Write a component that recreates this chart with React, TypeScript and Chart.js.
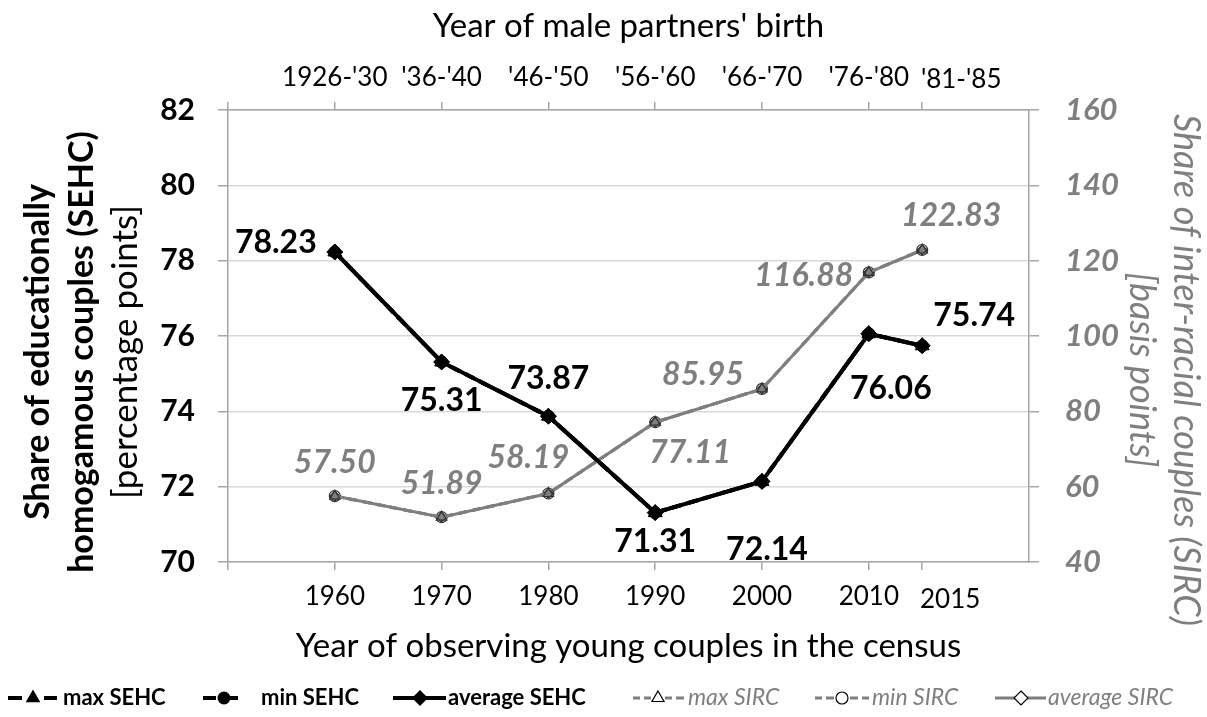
import { useEffect, useRef } from "react";
import { Chart, registerables } from "chart.js";

Chart.register(...registerables);

// ---------- data ----------
const censusYears = [1960, 1970, 1980, 1990, 2000, 2010, 2015];
const birthCohorts = ["1926-'30", "'36-'40", "'46-'50", "'56-'60", "'66-'70", "'76-'80", "'81-'85"];
const maxSEHC = [78.23, 75.31, 73.87, 71.31, 72.14, 76.06, 75.74];
const minSEHC = [78.23, 75.31, 73.87, 71.31, 72.14, 76.06, 75.74];
const avgSEHC = [78.23, 75.31, 73.87, 71.31, 72.14, 76.06, 75.74];
const maxSIRC = [57.5, 51.89, 58.19, 77.11, 85.95, 116.88, 122.83];
const minSIRC = [57.5, 51.89, 58.19, 77.11, 85.95, 116.88, 122.83];
const avgSIRC = [57.5, 51.89, 58.19, 77.11, 85.95, 116.88, 122.83];
const xTickValues = [1950, 1960, 1970, 1980, 1990, 2000, 2010, 2015];
const sehcTicks = [70, 72, 74, 76, 78, 80, 82];
const sircTicks = [40, 60, 80, 100, 120, 140, 160];

// ---------- styles ----------
const FONT = "Lato";
const GRAY = "#7f7f7f";
const AXIS = "#a6a6a6";
const GRID = "#d9d9d9";
const sehcLabelOffsets = [[-59, -9], [0, 39], [0, -38], [0, 29], [5, 68], [22, 55], [52, -30]];
const sircLabelOffsets = [[0, -33], [0, -34], [-20, -36], [35, 30], [-59, -14], [-65, 3], [29, -34]];

type Mk = "triangle" | "circle" | "diamond";

function drawMarker(ctx: CanvasRenderingContext2D, kind: Mk, x: number, y: number, r: number, fill: string, stroke: string, lw: number) {
  ctx.save();
  ctx.setLineDash([]);
  ctx.beginPath();
  if (kind === "triangle") {
    ctx.moveTo(x, y - r);
    ctx.lineTo(x + r * 0.866, y + r * 0.5);
    ctx.lineTo(x - r * 0.866, y + r * 0.5);
    ctx.closePath();
  } else if (kind === "circle") {
    ctx.arc(x, y, r, 0, Math.PI * 2);
  } else {
    ctx.moveTo(x, y - r);
    ctx.lineTo(x + r, y);
    ctx.lineTo(x, y + r);
    ctx.lineTo(x - r, y);
    ctx.closePath();
  }
  ctx.fillStyle = fill;
  ctx.fill();
  if (lw > 0) {
    ctx.strokeStyle = stroke;
    ctx.lineWidth = lw;
    ctx.stroke();
  }
  ctx.restore();
}

const SEHC_LEG_FONT = `bold 22px ${FONT}`;
const SIRC_LEG_FONT = `italic 23px ${FONT}`;
// segs: explicit line pieces [from, to] relative to the symbol
const legendItems = [
  { segs: [[8, 22], [44, 57]], mx: 33, kind: "triangle" as Mk, color: "#000", lw: 4, fill: "#000", stroke: "#000", mr: 8.5, text: "max SEHC", tx: 63, font: SEHC_LEG_FONT, tc: "#000" },
  { segs: [[203, 216], [230, 238]], mx: 224, kind: "circle" as Mk, color: "#000", lw: 4, fill: "#000", stroke: "#000", mr: 6.5, text: "min SEHC", tx: 261, font: SEHC_LEG_FONT, tc: "#000" },
  { segs: [[393, 446]], mx: 420, kind: "diamond" as Mk, color: "#000", lw: 4, fill: "#000", stroke: "#000", mr: 8, text: "average SEHC", tx: 448, font: SEHC_LEG_FONT, tc: "#000" },
  { segs: [[633, 640], [644, 651], [665, 672], [676, 684]], mx: 658, kind: "triangle" as Mk, color: GRAY, lw: 3, fill: "#fff", stroke: "#000", mr: 7, text: "max SIRC", tx: 688, font: SIRC_LEG_FONT, tc: GRAY },
  { segs: [[815, 822], [826, 834], [850, 858], [862, 869]], mx: 842, kind: "circle" as Mk, color: GRAY, lw: 3, fill: "#fff", stroke: "#000", mr: 6, text: "min SIRC", tx: 872, font: SIRC_LEG_FONT, tc: GRAY },
  { segs: [[995, 1046]], mx: 1021, kind: "diamond" as Mk, color: GRAY, lw: 3, fill: "#fff", stroke: "#000", mr: 7, text: "average SIRC", tx: 1048, font: SIRC_LEG_FONT, tc: GRAY },
];

const decorPlugin = {
  id: "decor",
  afterDraw(chart: any) {
    const ctx: CanvasRenderingContext2D = chart.ctx;
    const area = chart.chartArea;
    const xs = chart.scales.x;
    const xt = chart.scales.x2;
    ctx.save();

    // shifted 2015 tick labels (bottom and top)
    ctx.textAlign = "center";
    ctx.textBaseline = "middle";
    ctx.fillStyle = "#000";
    ctx.font = `26px ${FONT}`;
    const last = censusYears.length - 1;
    ctx.fillText(String(censusYears[last]), xs.getPixelForValue(censusYears[last]) + 28, 600);
    ctx.fillText(birthCohorts[last], xt.getPixelForValue(censusYears[last]) + 39, 80);

    // data labels
    const drawLabels = (dsIndex: number, values: number[], offsets: number[][], font: string, color: string) => {
      const meta = chart.getDatasetMeta(dsIndex);
      ctx.font = font;
      ctx.fillStyle = color;
      meta.data.forEach((pt: any, i: number) => {
        ctx.fillText(values[i].toFixed(2), pt.x + offsets[i][0], pt.y + offsets[i][1]);
      });
    };
    drawLabels(5, avgSIRC, sircLabelOffsets, `italic bold 32px ${FONT}`, GRAY);
    drawLabels(2, avgSEHC, sehcLabelOffsets, `bold 32px ${FONT}`, "#000");

    // axis titles
    const midX = (area.left + area.right) / 2;
    ctx.fillStyle = "#000";
    ctx.font = `33px ${FONT}`;
    ctx.fillText("Year of male partners' birth", midX, 26);
    ctx.fillText("Year of observing young couples in the census", midX, 646);

    // left title
    ctx.save();
    ctx.translate(0, 352);
    ctx.rotate(-Math.PI / 2);
    ctx.font = `bold 34px ${FONT}`;
    ctx.fillText("Share of educationally", 0, 38);
    ctx.fillText("homogamous couples (SEHC)", 0, 82);
    ctx.font = `35px ${FONT}`;
    ctx.fillText("[percentage points]", 0, 126);
    ctx.restore();

    // right title
    ctx.save();
    ctx.translate(1207, 370);
    ctx.rotate(Math.PI / 2);
    ctx.fillStyle = GRAY;
    ctx.font = `italic 36px ${FONT}`;
    ctx.fillText("Share of inter-racial couples (SIRC)", 0, 21);
    ctx.fillText("[basis points]", 0, 65);
    ctx.restore();

    // legend
    const ly = 698;
    legendItems.forEach((it) => {
      ctx.save();
      ctx.strokeStyle = it.color;
      ctx.lineWidth = it.lw;
      ctx.beginPath();
      it.segs.forEach(([a, b]) => {
        ctx.moveTo(a, ly);
        ctx.lineTo(b, ly);
      });
      ctx.stroke();
      ctx.restore();
      drawMarker(ctx, it.kind, it.mx, ly, it.mr, it.fill, it.stroke, it.fill === "#000" ? 0 : 1.2);
      ctx.font = it.font;
      ctx.fillStyle = it.tc;
      ctx.textAlign = "left";
      ctx.fillText(it.text, it.tx, ly);
    });

    ctx.restore();
  },
};

const pts = (arr: number[]) => censusYears.map((x, i) => ({ x, y: arr[i] }));

export default function App() {
  const ref = useRef<HTMLCanvasElement>(null);
  useEffect(() => {
    const canvas = ref.current;
    if (!canvas) return;
    const chart = new Chart(canvas, {
      type: "line",
      data: {
        datasets: [
          { label: "max SEHC", data: pts(maxSEHC), yAxisID: "y", xAxisID: "x", borderColor: "#000", borderWidth: 4, borderDash: [12, 6], pointStyle: "triangle", pointRadius: 8, pointBackgroundColor: "#000", pointBorderColor: "#000", pointBorderWidth: 1 },
          { label: "min SEHC", data: pts(minSEHC), yAxisID: "y", xAxisID: "x", borderColor: "#000", borderWidth: 4, borderDash: [9, 6], pointStyle: "circle", pointRadius: 6, pointBackgroundColor: "#000", pointBorderColor: "#000", pointBorderWidth: 1 },
          { label: "average SEHC", data: pts(avgSEHC), yAxisID: "y", xAxisID: "x", borderColor: "#000", borderWidth: 4, pointStyle: "rectRot", pointRadius: 8, pointBackgroundColor: "#000", pointBorderColor: "#000", pointBorderWidth: 1 },
          { label: "max SIRC", data: pts(maxSIRC), yAxisID: "y2", xAxisID: "x", borderColor: GRAY, borderWidth: 3, borderDash: [9, 5], pointStyle: "triangle", pointRadius: 6, pointBackgroundColor: "rgba(0,0,0,0)", pointBorderColor: "#333", pointBorderWidth: 1.2 },
          { label: "min SIRC", data: pts(minSIRC), yAxisID: "y2", xAxisID: "x", borderColor: GRAY, borderWidth: 3, borderDash: [9, 5], pointStyle: "circle", pointRadius: 5.5, pointBackgroundColor: "rgba(0,0,0,0)", pointBorderColor: "#333", pointBorderWidth: 1.2 },
          { label: "average SIRC", data: pts(avgSIRC), yAxisID: "y2", xAxisID: "x", borderColor: GRAY, borderWidth: 3, pointStyle: "rectRot", pointRadius: 5, pointBackgroundColor: GRAY, pointBorderColor: "#333", pointBorderWidth: 1.2 },
        ],
      },
      options: {
        responsive: false,
        animation: false,
        layout: { padding: 0 },
        plugins: {
          legend: { display: false },
          tooltip: { enabled: false },
          title: { display: false },
        },
        scales: {
          x: {
            type: "linear",
            position: "bottom",
            min: 1950,
            max: 2025,
            afterBuildTicks: (s: any) => { s.ticks = xTickValues.map((v) => ({ value: v })); },
            afterFit: (s: any) => { s.height = 155; },
            grid: { drawOnChartArea: false, drawTicks: true, tickLength: 8, color: AXIS, lineWidth: 1.5 },
            border: { color: AXIS, width: 1.5 },
            ticks: {
              autoSkip: false, maxRotation: 0, padding: 11, color: "#000",
              font: { family: FONT, size: 26 },
              callback: (v: any) => (censusYears.includes(v) && v !== 2015 ? String(v) : ""),
            },
          },
          x2: {
            type: "linear",
            position: "top",
            min: 1950,
            max: 2025,
            afterBuildTicks: (s: any) => { s.ticks = xTickValues.map((v) => ({ value: v })); },
            afterFit: (s: any) => { s.height = 110; },
            grid: { drawOnChartArea: false, drawTicks: true, tickLength: 8, color: AXIS, lineWidth: 1.5 },
            border: { color: AXIS, width: 1.5 },
            ticks: {
              autoSkip: false, maxRotation: 0, padding: 9, color: "#000",
              font: { family: FONT, size: 26 },
              callback: (v: any) => {
                const i = censusYears.indexOf(v);
                return i >= 0 && v !== 2015 ? birthCohorts[i] : "";
              },
            },
          },
          y: {
            type: "linear",
            position: "left",
            min: 70,
            max: 82,
            afterBuildTicks: (s: any) => { s.ticks = sehcTicks.map((v) => ({ value: v })); },
            afterFit: (s: any) => { s.width = 228; },
            grid: { color: GRID, lineWidth: 1.5, tickColor: AXIS, tickLength: 10 },
            border: { color: AXIS, width: 1.5 },
            ticks: { padding: 23, color: "#000", font: { family: FONT, size: 30, weight: "bold" } },
          },
          y2: {
            type: "linear",
            position: "right",
            min: 40,
            max: 160,
            afterBuildTicks: (s: any) => { s.ticks = sircTicks.map((v) => ({ value: v })); },
            afterFit: (s: any) => { s.width = 178; },
            grid: { drawOnChartArea: false, color: AXIS, lineWidth: 1.5, tickLength: 10 },
            border: { color: AXIS, width: 1.5 },
            ticks: { padding: 26, color: GRAY, font: { family: FONT, size: 31, weight: "bold", style: "italic" } },
          },
        },
      } as any,
      plugins: [decorPlugin],
    });
    return () => chart.destroy();
  }, []);
  return (
    <div style={{ position: "absolute", left: 0, top: 0, width: 1207, height: 717, background: "#fff" }}>
      <canvas ref={ref} width={1207} height={717} style={{ display: "block" }} />
    </div>
  );
}
